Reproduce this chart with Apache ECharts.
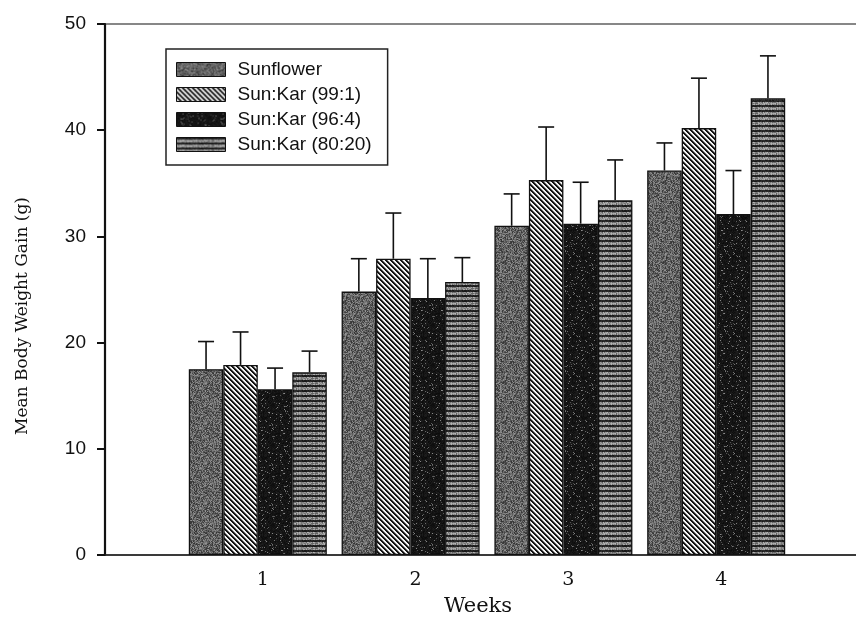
<!DOCTYPE html>
<html>
<head>
<meta charset="utf-8">
<script src="https://cdn.jsdelivr.net/npm/echarts@6/dist/echarts.min.js"></script>
<style>
html,body{margin:0;padding:0;background:#fff;}
#chart{width:856px;height:618px;}
</style>
</head>
<body>
<div id="chart"></div>
<script>
// ---- data ----
const categories = ['1', '2', '3', '4'];
const seriesNames = ['Sunflower', 'Sun:Kar (99:1)', 'Sun:Kar (96:4)', 'Sun:Kar (80:20)'];
const sunflower = [17.5, 24.8, 31.0, 36.2];
const sunflowerErr = [2.6, 3.1, 3.0, 2.6];
const sunKar99 = [17.9, 27.9, 35.3, 40.2];
const sunKar99Err = [3.1, 4.3, 5.0, 4.7];
const sunKar96 = [15.6, 24.2, 31.2, 32.1];
const sunKar96Err = [2.0, 3.7, 3.9, 4.1];
const sunKar80 = [17.2, 25.7, 33.4, 43.0];
const sunKar80Err = [2.0, 2.3, 3.8, 4.0];
const yTicks = [0, 10, 20, 30, 40, 50];
const xTitle = 'Weeks';
const yTitle = 'Mean Body Weight Gain (g)';

// ---- pattern fills (styling only) ----
function hash(x, y, s) {
  let h = Math.imul(x, 374761393) + Math.imul(y, 668265263) + Math.imul(s, 1442695041);
  h = Math.imul(h ^ (h >>> 13), 1274126177);
  h = h ^ (h >>> 16);
  return (h >>> 0) / 4294967296;
}
function makeCanvas(w, h, fn) {
  const c = document.createElement('canvas');
  c.width = w; c.height = h;
  const ctx = c.getContext('2d');
  const img = ctx.createImageData(w, h);
  for (let y = 0; y < h; y++) for (let x = 0; x < w; x++) {
    const v = fn(x, y);
    const i = (y * w + x) * 4;
    img.data[i] = v; img.data[i + 1] = v; img.data[i + 2] = v; img.data[i + 3] = 255;
  }
  ctx.putImageData(img, 0, 0);
  return c;
}
const patSun = makeCanvas(40, 40, (x, y) => 50 + Math.floor(hash(x, y, 1) * 100));
const patDiag = makeCanvas(5, 5, (x, y) => {
  const m = ((x - y) % 5 + 5) % 5;
  return m < 2 ? 20 : (m === 2 ? 120 : 245);
});
const patDark = makeCanvas(40, 40, (x, y) => {
  const r = hash(x, y, 2);
  return r < 0.08 ? 70 + Math.floor(hash(x, y, 3) * 70) : 10 + Math.floor(r * 20);
});
const patHoriz = makeCanvas(40, 5, (x, y) => {
  const r = hash(x, y, 4);
  return (y % 5) < 2 ? 20 + Math.floor(r * 35) : 95 + Math.floor(r * 90);
});
const patterns = [patSun, patDiag, patDark, patHoriz];

const values = [sunflower, sunKar99, sunKar96, sunKar80];
const errors = [sunflowerErr, sunKar99Err, sunKar96Err, sunKar80Err];
const barW = 34.5;

const series = [];
seriesNames.forEach((name, s) => {
  series.push({
    name: name,
    type: 'bar',
    barWidth: barW,
    barGap: '0%',
    data: values[s].map((v, i) => [i + 1, v]),
    itemStyle: {
      color: { image: patterns[s], repeat: 'repeat' },
      borderColor: '#111',
      borderWidth: 1.3
    },
    emphasis: { disabled: true },
    z: 2
  });
});
seriesNames.forEach((name, s) => {
  const offset = (s - 1.5) * barW;
  series.push({
    name: name + ' err',
    type: 'custom',
    z: 3,
    silent: true,
    data: values[s].map((v, i) => [i + 1, v, errors[s][i]]),
    renderItem: function (params, api) {
      const c = api.value(0), v = api.value(1), e = api.value(2);
      const p0 = api.coord([c, v]);
      const p1 = api.coord([c, v + e]);
      const x = p0[0] + offset;
      const st = { stroke: '#111', lineWidth: 1.6 };
      return {
        type: 'group',
        children: [
          { type: 'line', shape: { x1: x, y1: p0[1], x2: x, y2: p1[1] }, style: st },
          { type: 'line', shape: { x1: x - 8, y1: p1[1], x2: x + 8, y2: p1[1] }, style: st }
        ]
      };
    }
  });
});

const chart = echarts.init(document.getElementById('chart'));
chart.setOption({
  backgroundColor: '#fff',
  animation: false,
  grid: {
    left: 105, top: 24, width: 764, height: 531,
    outerBoundsMode: 'none', containLabel: false,
    show: true, borderColor: '#111', borderWidth: 1.2, backgroundColor: 'transparent'
  },
  legend: {
    data: seriesNames,
    orient: 'vertical',
    left: 166, top: 49,
    itemWidth: 49, itemHeight: 14, itemGap: 6,
    padding: [11, 16, 11, 10],
    borderColor: '#222', borderWidth: 1.5,
    icon: 'rect',
    itemStyle: { borderColor: '#111', borderWidth: 1 },
    textStyle: { fontFamily: 'Liberation Sans, Arial, sans-serif', fontSize: 19, color: '#111', padding: [0, 0, 0, 7] },
    selectedMode: false
  },
  xAxis: {
    type: 'category',
    data: [''].concat(categories).concat(['']),
    boundaryGap: false,
    axisLine: { lineStyle: { color: '#222', width: 1.5 } },
    axisTick: { show: false },
    splitLine: { show: false },
    axisLabel: {
      fontFamily: 'DejaVu Serif, serif', fontSize: 19, color: '#111',
      margin: 16, padding: [0, 0, 0, 10], interval: 0
    }
  },
  yAxis: {
    type: 'value',
    min: yTicks[0], max: yTicks[yTicks.length - 1], interval: 10,
    axisLine: { show: true, lineStyle: { color: '#111', width: 2.2 } },
    axisTick: { show: true, length: 8, lineStyle: { color: '#111', width: 2 } },
    splitLine: { show: false },
    axisLabel: { fontFamily: 'Liberation Sans, Arial, sans-serif', fontSize: 19, color: '#111', margin: 19 }
  },
  graphic: [
    {
      type: 'text', x: 478, y: 607,
      style: { text: xTitle, font: '21px "DejaVu Serif", serif', fill: '#111', textAlign: 'center', textVerticalAlign: 'middle' }
    },
    {
      type: 'text', x: 23, y: 316, rotation: Math.PI / 2,
      style: { text: yTitle, font: '17px "DejaVu Serif", serif', fill: '#111', textAlign: 'center', textVerticalAlign: 'middle' }
    }
  ],
  series: series
});
</script>
</body>
</html>
